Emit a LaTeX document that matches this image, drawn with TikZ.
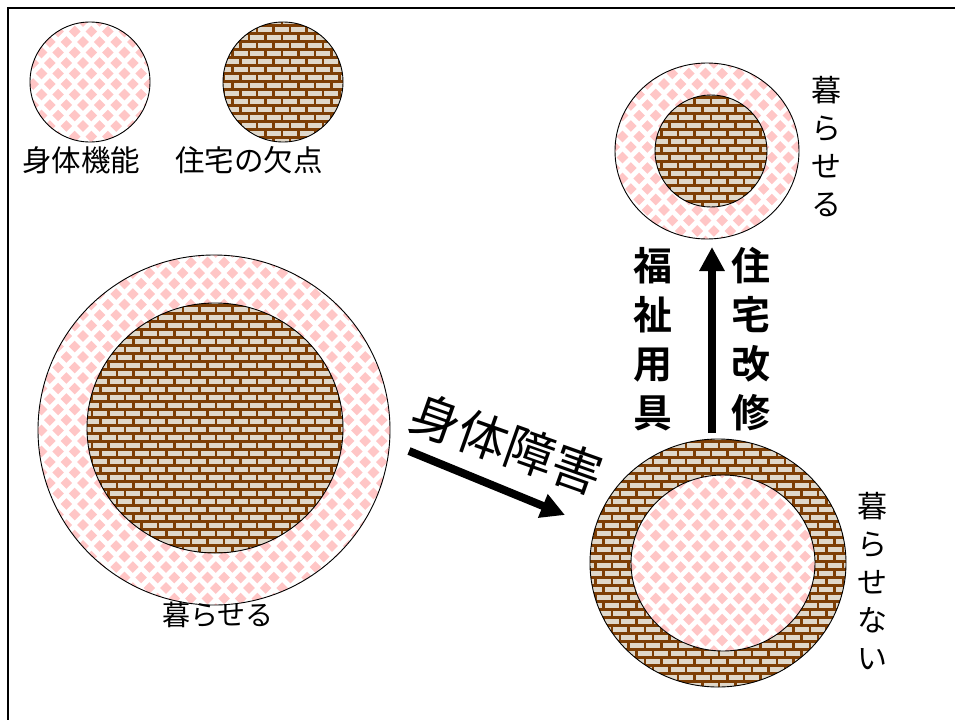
\documentclass[tikz,border=0pt]{standalone}
\usepackage{fontspec}
\newfontfamily\cjk{Noto Sans CJK JP}
\newfontfamily\cjkb{Noto Sans CJK JP Bold}
\usetikzlibrary{arrows.meta}
\definecolor{brickface}{RGB}{224,216,202}
\definecolor{mortar}{RGB}{125,62,5}
\definecolor{pinkd}{RGB}{255,198,198}
\newcommand{\dmdfill}[4]{%
  \begin{scope}
    \clip (#1,#2) ellipse (#3 and #4);
    \fill[white] (#1,#2) ellipse (#3 and #4);
    \pgfmathtruncatemacro{\dmIa}{floor((#1-#3)/16.6)-1}
    \pgfmathtruncatemacro{\dmIb}{ceil((#1+#3)/16.6)+1}
    \pgfmathtruncatemacro{\dmJa}{floor((#2-#4)/21)-1}
    \pgfmathtruncatemacro{\dmJb}{ceil((#2+#4)/21)+1}
    \foreach \i in {\dmIa,...,\dmIb}{\foreach \j in {\dmJa,...,\dmJb}{
      \fill[pinkd] ({\i*16.6},{\j*21-5.8}) -- ++(5.8,5.8) -- ++(-5.8,5.8) -- ++(-5.8,-5.8) -- cycle;
      \fill[pinkd] ({\i*16.6+8.3},{\j*21+10.5-5.8}) -- ++(5.8,5.8) -- ++(-5.8,5.8) -- ++(-5.8,-5.8) -- cycle;
    }}
  \end{scope}
  \draw[line width=0.9pt] (#1,#2) ellipse (#3 and #4);}
\newcommand{\brkfill}[4]{%
  \begin{scope}
    \clip (#1,#2) ellipse (#3 and #4);
    \fill[brickface] (#1,#2) ellipse (#3 and #4);
    \pgfmathtruncatemacro{\bkIa}{floor((#1-#3)/16.5)-1}
    \pgfmathtruncatemacro{\bkIb}{ceil((#1+#3)/16.5)+1}
    \pgfmathtruncatemacro{\bkJa}{floor((#2-#4)/8)-1}
    \pgfmathtruncatemacro{\bkJb}{ceil((#2+#4)/8)+1}
    \foreach \j in {\bkJa,...,\bkJb}{
      \fill[mortar] ({#1-#3-2},{\j*8}) rectangle ++({2*#3+4},2.6);
      \foreach \i in {\bkIa,...,\bkIb}{
        \fill[mortar] ({\i*16.5+mod(\j,2)*8.25},{\j*8}) rectangle ++(2.6,8);
      }}
  \end{scope}
  \draw[line width=0.9pt] (#1,#2) ellipse (#3 and #4);}
\tikzset{
  lbl/.style={font=\cjk\fontsize{29.5}{34}\selectfont, inner sep=0pt},
  vlbl/.style={font=\cjk\fontsize{30}{38}\selectfont, align=center, inner sep=0pt},
  blbl/.style={font=\cjkb\fontsize{39}{49}\selectfont, align=center, inner sep=0pt},
  bigarrow/.style={line width=8pt, -{Triangle[length=24pt,width=24pt]}}
}
\begin{document}
\begin{tikzpicture}[x=1pt,y=-1pt]
\useasboundingbox (0,0) rectangle (955,720);
\fill[white] (0,0) rectangle (955,720);
\draw[line width=2.5pt] (955,8) -- (8,8) -- (8,720);
% legend
\dmdfill{90}{82}{60}{60}
\brkfill{283}{82}{60}{60}
\node[lbl] (l1) at (81,160) {身体機能};
\node[lbl] (l2) at (249,160) {住宅の欠点};
% big left
\dmdfill{214}{430}{176}{175}
\brkfill{215}{428}{128}{125}
\node[lbl, font=\cjk\fontsize{28}{34}\selectfont] (t1) at (218,615) {暮らせる};
% top right
\dmdfill{707}{151}{92}{88}
\brkfill{711}{151}{56}{56}
\node[vlbl] (t2) at (826,147) {暮\\ら\\せ\\る};
% bottom right
\brkfill{718}{563}{128}{124}
\dmdfill{723}{563}{92}{88}
\node[vlbl] (t3) at (872,581) {暮\\ら\\せ\\な\\い};
% arrows
\coordinate (a1s) at (409,451);
\coordinate (a1e) at (565,515);
\draw[bigarrow] (a1s) -- (a1e);
\node[font=\cjk\fontsize{50}{50}\selectfont, rotate=-19.5, inner sep=0pt] (dis) at (507,444) {身体障害};
\coordinate (a2s) at (712,433);
\coordinate (a2e) at (712,247);
\draw[bigarrow] (a2s) -- (a2e);
\node[blbl] (fk) at (653,339) {福\\祉\\用\\具};
\node[blbl] (jt) at (751,339) {住\\宅\\改\\修};
\end{tikzpicture}
\end{document}
